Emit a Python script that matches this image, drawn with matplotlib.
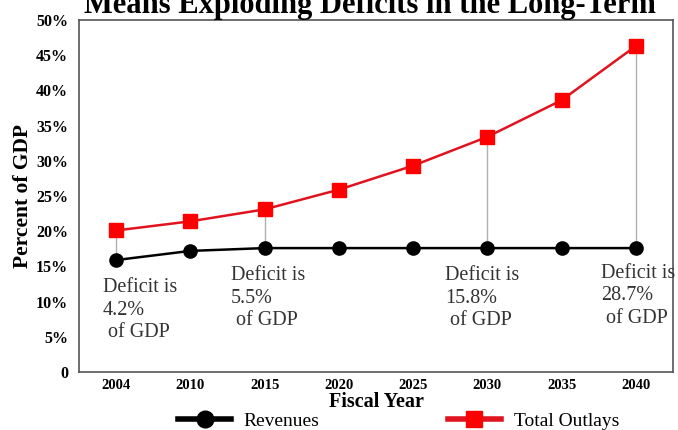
import matplotlib
matplotlib.use("Agg")
import matplotlib.pyplot as plt
from matplotlib.lines import Line2D

# ===============================
# Data (percent of GDP)
# ===============================
years = ["2004", "2010", "2015", "2020", "2025", "2030", "2035", "2040"]
revenues = [15.9, 17.2, 17.6, 17.6, 17.6, 17.6, 17.6, 17.6]
outlays = [20.1, 21.4, 23.1, 25.9, 29.3, 33.4, 38.6, 46.3]
yticks = [0, 5, 10, 15, 20, 25, 30, 35, 40, 45, 50]
ytick_labels = ["0", "5%", "10%", "15%", "20%", "25%", "30%", "35%", "40%", "45%", "50%"]

# deficit notes: (year index, text, label x, label y)
notes = [
    (0, "Deficit is\n4.2%\n of GDP", -0.18, 13.3),
    (2, "Deficit is\n5.5%\n of GDP", 1.55, 15.0),
    (5, "Deficit is\n15.8%\n of GDP", 4.43, 15.0),
    (7, "Deficit is\n28.7%\n of GDP", 6.53, 15.4),
]

plt.rcParams['font.family'] = ['Liberation Serif', 'DejaVu Serif']

fig = plt.figure(figsize=(6.78, 4.30), dpi=100)
ax = fig.add_axes([0.1165, 0.1349, 0.876, 0.8186])

x = list(range(len(years)))

# gray connectors showing the gap
for i, txt, tx, ty in notes:
    ax.plot([i, i], [revenues[i], outlays[i]], color="#b0b0b0", lw=1, zorder=1)

ax.plot(x, outlays, color="#e0141e", lw=1.8, marker="s", markersize=9.5,
        markerfacecolor="#ff0000", markeredgecolor="#ff0000", zorder=3)
ax.plot(x, revenues, color="black", lw=1.8, marker="o", markersize=9.5,
        markerfacecolor="black", zorder=3)

for i, txt, tx, ty in notes:
    ax.text(tx, ty, txt, fontsize=14.5, color="#333333", va="top", ha="left",
            linespacing=1.25)

ax.set_xlim(-0.5, 7.5)
ax.set_ylim(0, 50)
ax.set_xticks(x)
ax.set_xticklabels(years, fontsize=10.5, fontweight="bold")
ax.set_yticks(yticks)
ax.set_yticklabels(ytick_labels, fontsize=11.5, fontweight="bold")
ax.tick_params(length=0, pad=8)
ax.tick_params(axis="x", pad=5)
for s in ax.spines.values():
    s.set_color("#555555")
    s.set_linewidth(1.2)

ax.set_xlabel("Fiscal Year", fontsize=14.5, fontweight="bold", labelpad=0)
ax.set_ylabel("Percent of GDP", fontsize=15.5, fontweight="bold", labelpad=2)

fig.text(0.545, 1 - 13 / 430, "Means Exploding Deficits in the Long-Term",
         fontsize=22, fontweight="bold", ha="center", va="baseline")

handles = [
    Line2D([], [], color="black", lw=4, marker="o", markersize=12),
    Line2D([], [], color="#e0141e", lw=4, marker="s", markersize=11,
           markerfacecolor="#ff0000", markeredgecolor="#ff0000"),
]
fig.legend(handles, ["Revenues", "Total Outlays"], loc="lower center",
           bbox_to_anchor=(0.588, -0.04), ncol=2, frameon=False, fontsize=14,
           handlelength=2.7, columnspacing=6.6, handletextpad=0.67)

fig.savefig("out.png", dpi=100)
